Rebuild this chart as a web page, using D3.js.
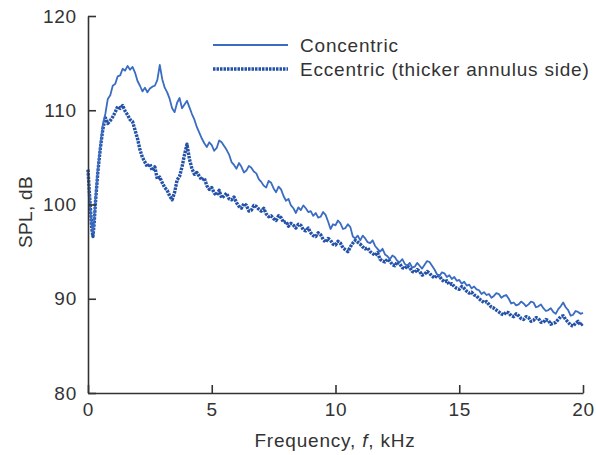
<!DOCTYPE html>
<html>
<head>
<meta charset="utf-8">
<script src="https://cdn.jsdelivr.net/npm/d3@7"></script>
<style>
  body { margin: 0; background: #fff; }
  text { font-family: "Liberation Sans", Arial, sans-serif; fill: #333; }
</style>
</head>
<body>
<div id="chart"></div>
<script>
// frequency grid, kHz
const freq = [
  0, 0.05, 0.1, 0.15, 0.2, 0.25, 0.3,
  0.4, 0.5, 0.6, 0.7, 0.8, 0.9, 1.0,
  1.1, 1.2, 1.3, 1.4, 1.5, 1.6, 1.7, 1.8, 1.9, 2.0,
  2.1, 2.2, 2.3, 2.4, 2.5, 2.6, 2.7, 2.8, 2.9, 3.0,
  3.1, 3.2, 3.3, 3.4, 3.5, 3.6, 3.7, 3.8, 3.9, 4.0,
  4.1, 4.2, 4.3, 4.4, 4.5, 4.6, 4.7, 4.8, 4.9, 5.0,
  5.1, 5.2, 5.3, 5.4, 5.5, 5.6, 5.7, 5.8, 5.9, 6.0,
  6.1, 6.2, 6.3, 6.4, 6.5, 6.6, 6.7, 6.8, 6.9, 7.0,
  7.1, 7.2, 7.3, 7.4, 7.5, 7.6, 7.7, 7.8, 7.9, 8.0,
  8.1, 8.2, 8.3, 8.4, 8.5, 8.6, 8.7, 8.8, 8.9, 9.0,
  9.1, 9.2, 9.3, 9.4, 9.5, 9.6, 9.7, 9.8, 9.9, 10.0,
  10.1, 10.2, 10.3, 10.4, 10.5, 10.6, 10.7, 10.8, 10.9, 11.0,
  11.1, 11.2, 11.3, 11.4, 11.5, 11.6, 11.7, 11.8, 11.9, 12.0,
  12.1, 12.2, 12.3, 12.4, 12.5, 12.6, 12.7, 12.8, 12.9, 13.0,
  13.1, 13.2, 13.3, 13.4, 13.5, 13.6, 13.7, 13.8, 13.9, 14.0,
  14.1, 14.2, 14.3, 14.4, 14.5, 14.6, 14.7, 14.8, 14.9, 15.0,
  15.1, 15.2, 15.3, 15.4, 15.5, 15.6, 15.7, 15.8, 15.9, 16.0,
  16.1, 16.2, 16.3, 16.4, 16.5, 16.6, 16.7, 16.8, 16.9, 17.0,
  17.1, 17.2, 17.3, 17.4, 17.5, 17.6, 17.7, 17.8, 17.9, 18.0,
  18.1, 18.2, 18.3, 18.4, 18.5, 18.6, 18.7, 18.8, 18.9, 19.0,
  19.1, 19.2, 19.3, 19.4, 19.5, 19.6, 19.7, 19.8, 19.9, 20.0
];

// SPL, dB - concentric
const concentric = [
  103.5, 101.3, 99.3, 97.8, 97.0, 98.3, 100.5,
  103.8, 106.3, 108.5, 109.6, 111.2, 111.6, 112.6,
  112.8, 113.6, 113.7, 114.4, 114.2, 114.7, 114.3, 114.6, 114.0, 113.1,
  112.6, 112.0, 112.4, 111.9, 112.3, 112.5, 112.6, 113.2, 114.8, 113.3,
  112.4, 111.9, 111.2, 110.2, 109.8, 110.8, 111.3, 110.2, 110.6, 111.0,
  110.3, 109.6, 109.0, 108.2, 107.6, 107.0, 106.5, 106.1, 106.6, 106.3,
  105.7, 106.0, 106.8, 106.6, 106.2, 105.8, 105.3, 104.5, 104.2, 103.8,
  104.4, 104.0, 103.4, 103.6, 104.1, 103.9, 103.5, 103.3, 102.7, 102.4,
  102.0, 101.8, 102.5, 102.3, 101.7, 101.3, 101.9, 101.6, 100.9, 100.4,
  100.6, 99.9, 99.6, 99.1, 99.7, 99.4, 99.9, 99.6, 99.2, 99.3,
  98.8, 99.1, 98.6, 98.7, 99.2, 98.9, 98.2, 97.4, 97.9, 97.8,
  98.3, 98.0, 97.4, 97.5, 97.9, 97.6, 96.6, 96.4, 96.7, 96.2,
  96.7, 96.4, 96.0, 95.9, 96.2, 95.6, 95.3, 95.0, 95.3, 94.7,
  94.5, 94.2, 94.6, 94.4, 94.0, 93.9, 94.2, 93.7, 93.5, 93.8,
  93.3, 93.4, 93.8, 93.5, 93.2, 93.6, 94.0, 93.9, 93.5, 93.1,
  92.6, 92.4, 92.8, 92.7, 92.3, 92.5, 92.1, 92.3, 91.9, 92.0,
  91.6, 91.8, 91.4, 91.5, 91.1, 91.3, 91.0, 90.9, 90.5, 90.7,
  90.4, 90.5, 90.1, 90.3, 90.6, 90.5, 90.1, 90.3, 90.4, 90.0,
  89.5, 89.6, 89.3, 89.4, 89.7, 89.5, 89.2, 89.4, 89.7, 89.6,
  89.1, 89.2, 89.4, 89.0, 88.7, 88.8, 89.0, 88.6, 88.4, 88.9,
  89.2, 89.6, 89.1, 88.8, 88.2, 88.3, 88.7, 88.6, 88.4, 88.5
];

// SPL, dB - eccentric (thicker annulus side)
const eccentric = [
  103.7, 101.5, 99.5, 97.5, 96.6, 98.0, 100.2,
  103.5, 106.0, 108.0, 109.2, 108.6, 108.9, 109.3,
  109.8, 110.4, 110.2, 110.5, 109.9, 109.5, 109.0, 108.8, 107.9, 107.0,
  105.8, 105.0, 104.5, 104.0, 104.3, 103.6, 104.0, 102.7, 102.9, 102.3,
  101.8, 101.5, 100.9, 100.5, 101.3, 102.6, 103.0, 104.0, 105.3, 106.4,
  104.8, 103.8, 103.2, 103.4, 103.0, 102.6, 102.8, 102.0, 101.6, 101.8,
  101.2, 101.0, 101.5, 100.7, 100.9, 101.2, 100.6, 100.5, 100.8, 100.2,
  99.8, 99.6, 100.1, 99.9, 99.3, 99.4, 99.9, 99.8, 99.5, 99.3,
  99.6, 99.0, 98.7, 98.8, 98.5, 98.3, 98.8, 98.6, 98.1, 98.2,
  97.7, 98.0, 97.8, 97.5, 97.9, 97.8, 97.3, 97.2, 97.5, 97.0,
  96.7, 96.6, 97.0, 96.8, 96.3, 96.0, 96.4, 96.2, 95.8, 95.7,
  96.1, 95.9, 95.4, 95.2, 95.0, 95.5, 95.9, 96.2, 96.0, 95.8,
  95.5, 95.3, 95.4, 95.0, 94.8, 94.6, 94.9, 94.2, 94.0, 93.9,
  94.2, 94.0, 93.6, 93.5, 93.9, 93.7, 93.3, 93.2, 93.5, 93.3,
  92.9, 92.8, 93.1, 92.9, 92.5, 92.6, 92.9, 92.7, 92.4, 92.2,
  92.5, 92.4, 92.0, 91.8, 91.9, 91.5, 91.6, 91.3, 91.1, 91.0,
  91.3, 91.1, 90.8, 90.6, 90.7, 90.4, 90.3, 90.0, 89.8, 89.6,
  89.7, 89.4, 89.1, 89.0, 88.8, 88.6, 88.4, 88.3, 88.6, 88.5,
  88.2, 88.1, 88.4, 88.2, 87.9, 87.8, 88.1, 88.0, 87.6, 87.7,
  88.0, 87.9, 87.5, 87.5, 87.8, 87.7, 87.3, 87.4, 87.5, 87.8,
  88.1, 88.2, 87.8, 87.5, 87.2, 87.1, 87.4, 87.6, 87.2, 87.4
];

const xTicks = [0, 5, 10, 15, 20];
const yTicks = [80, 90, 100, 110, 120];
const seriesNames = ["Concentric", "Eccentric (thicker annulus side)"];

const width = 596, height = 455;
const fontSize = "19px";
const spacing = "0.8px";

const svg = d3.select("#chart").append("svg")
  .attr("width", width)
  .attr("height", height);

const x = d3.scaleLinear().domain([0, 20]).range([88, 583]);
const y = d3.scaleLinear().domain([80, 120]).range([393, 16]);

// lines
const line = d3.line()
  .x((d, i) => x(freq[i]))
  .y(d => y(d));

svg.append("path")
  .datum(eccentric)
  .attr("d", line)
  .attr("fill", "none")
  .attr("stroke", "#2452a8")
  .attr("stroke-width", 3.4)
  .attr("stroke-dasharray", "2.5,1")
  .attr("stroke-linejoin", "round");

svg.append("path")
  .datum(concentric)
  .attr("d", line)
  .attr("fill", "none")
  .attr("stroke", "#3a6cc2")
  .attr("stroke-width", 1.8)
  .attr("stroke-linejoin", "round");

// axes, ticks inward
const xAxis = svg.append("g")
  .attr("transform", `translate(0,${y(80)})`)
  .call(d3.axisBottom(x).tickValues(xTicks).tickSize(-8).tickSizeOuter(0).tickPadding(10));

const yAxis = svg.append("g")
  .attr("transform", `translate(${x(0)},0)`)
  .call(d3.axisLeft(y).tickValues(yTicks).tickSize(-8).tickSizeOuter(0).tickPadding(11));

[xAxis, yAxis].forEach(g => {
  g.select(".domain").attr("stroke", "#333").attr("stroke-width", 1.6);
  g.selectAll(".tick line").attr("stroke", "#333").attr("stroke-width", 1.6);
  g.selectAll(".tick text")
    .style("font-family", '"Liberation Sans", Arial, sans-serif')
    .style("font-size", fontSize)
    .style("letter-spacing", spacing)
    .attr("fill", "#333");
});

// axis titles
const xTitle = svg.append("text")
  .attr("x", 335)
  .attr("y", 447)
  .attr("text-anchor", "middle")
  .style("font-size", fontSize)
  .style("letter-spacing", spacing);
xTitle.append("tspan").text("Frequency, ");
xTitle.append("tspan").style("font-style", "italic").text("f");
xTitle.append("tspan").text(", kHz");

svg.append("text")
  .attr("transform", "translate(32,212) rotate(-90)")
  .attr("text-anchor", "middle")
  .style("font-size", fontSize)
  .style("letter-spacing", "0.3px")
  .text("SPL, dB");

// legend
const legend = svg.append("g");
const legendY = [45, 69];
legend.append("line")
  .attr("x1", 213).attr("x2", 288)
  .attr("y1", legendY[0]).attr("y2", legendY[0])
  .attr("stroke", "#3a6cc2").attr("stroke-width", 1.8);
legend.append("line")
  .attr("x1", 213).attr("x2", 288)
  .attr("y1", legendY[1]).attr("y2", legendY[1])
  .attr("stroke", "#2452a8").attr("stroke-width", 3.4)
  .attr("stroke-dasharray", "2.5,1");
seriesNames.forEach((name, i) => {
  legend.append("text")
    .attr("x", 300)
    .attr("y", legendY[i])
    .attr("dy", "0.35em")
    .style("font-size", fontSize)
    .style("letter-spacing", spacing)
    .text(name);
});
</script>
</body>
</html>
